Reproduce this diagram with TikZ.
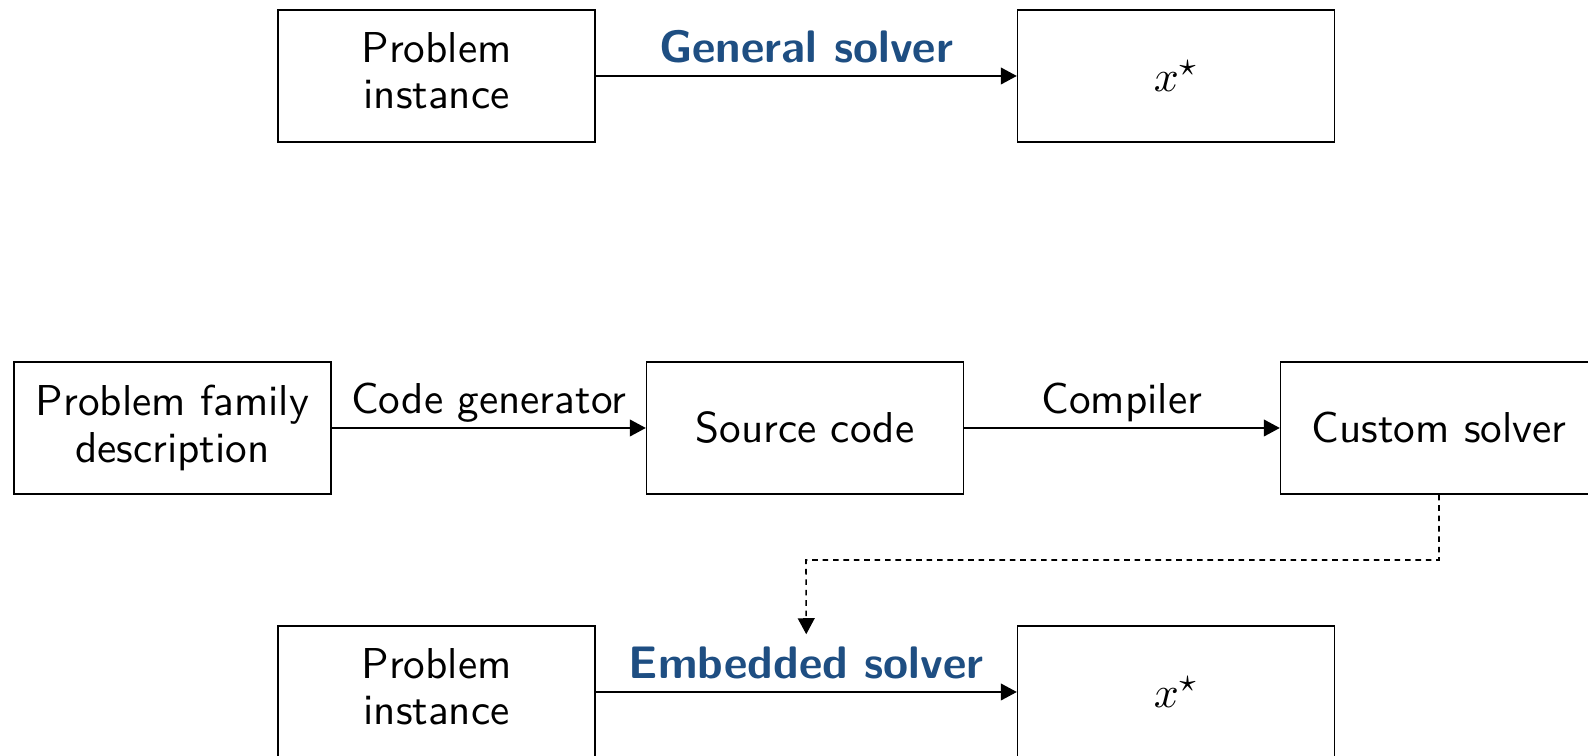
\documentclass[tikz,border=0pt]{standalone}
\usetikzlibrary{arrows.meta}
\definecolor{solverblue}{RGB}{30,78,130}
\newcommand{\lowline}{\rule[-2.7pt]{0pt}{0pt}}
\begin{document}
\begin{tikzpicture}[x=0.25pt,y=-0.25pt,
  every node/.style={font=\sffamily\fontsize{10.8}{11.7}\selectfont},
  box/.style={draw,minimum width=79.2pt,minimum height=33pt,align=center,inner sep=0pt},
  flow/.style={-{Triangle[length=4pt,width=4.2pt]}},
  lbl/.style={inner sep=3pt,text depth=0pt,yshift=0.5pt},
  hint/.style={inner sep=3pt,font=\sffamily\bfseries\fontsize{11.4}{13}\selectfont,text=solverblue}]
\clip (0,0) rectangle (1588,756);

% general-purpose solver
\node[box] (A) at (436.5,76) {Problem\\instance\lowline};
\node[box] (B) at (1176,76) {$x^\star$};
\draw[flow] (A) -- node[above,hint] (gen) {General solver} (B);

% code generation chain
\node[box] (C) at (172.5,428) {Problem family\\description};
\node[box] (D) at (805,428) {Source code};
\node[box] (E) at (1439,428) {Custom solver};
\draw[flow] (C) -- node[above,lbl] (cg) {Code generator} (D);
\draw[flow] (D) -- node[above,lbl] (cp) {Compiler} (E);

% embedded solver
\node[box] (F) at (436.5,692) {Problem\\instance\lowline};
\node[box] (G) at (1176,692) {$x^\star$};
\draw[flow] (F) -- node[above,hint] (emb) {Embedded solver} (G);

\coordinate (bend) at (806,560);
\draw[flow,dash pattern=on 1.4pt off 1.2pt] (E.south) |- (bend) -- (emb.north);
\end{tikzpicture}
\end{document}
